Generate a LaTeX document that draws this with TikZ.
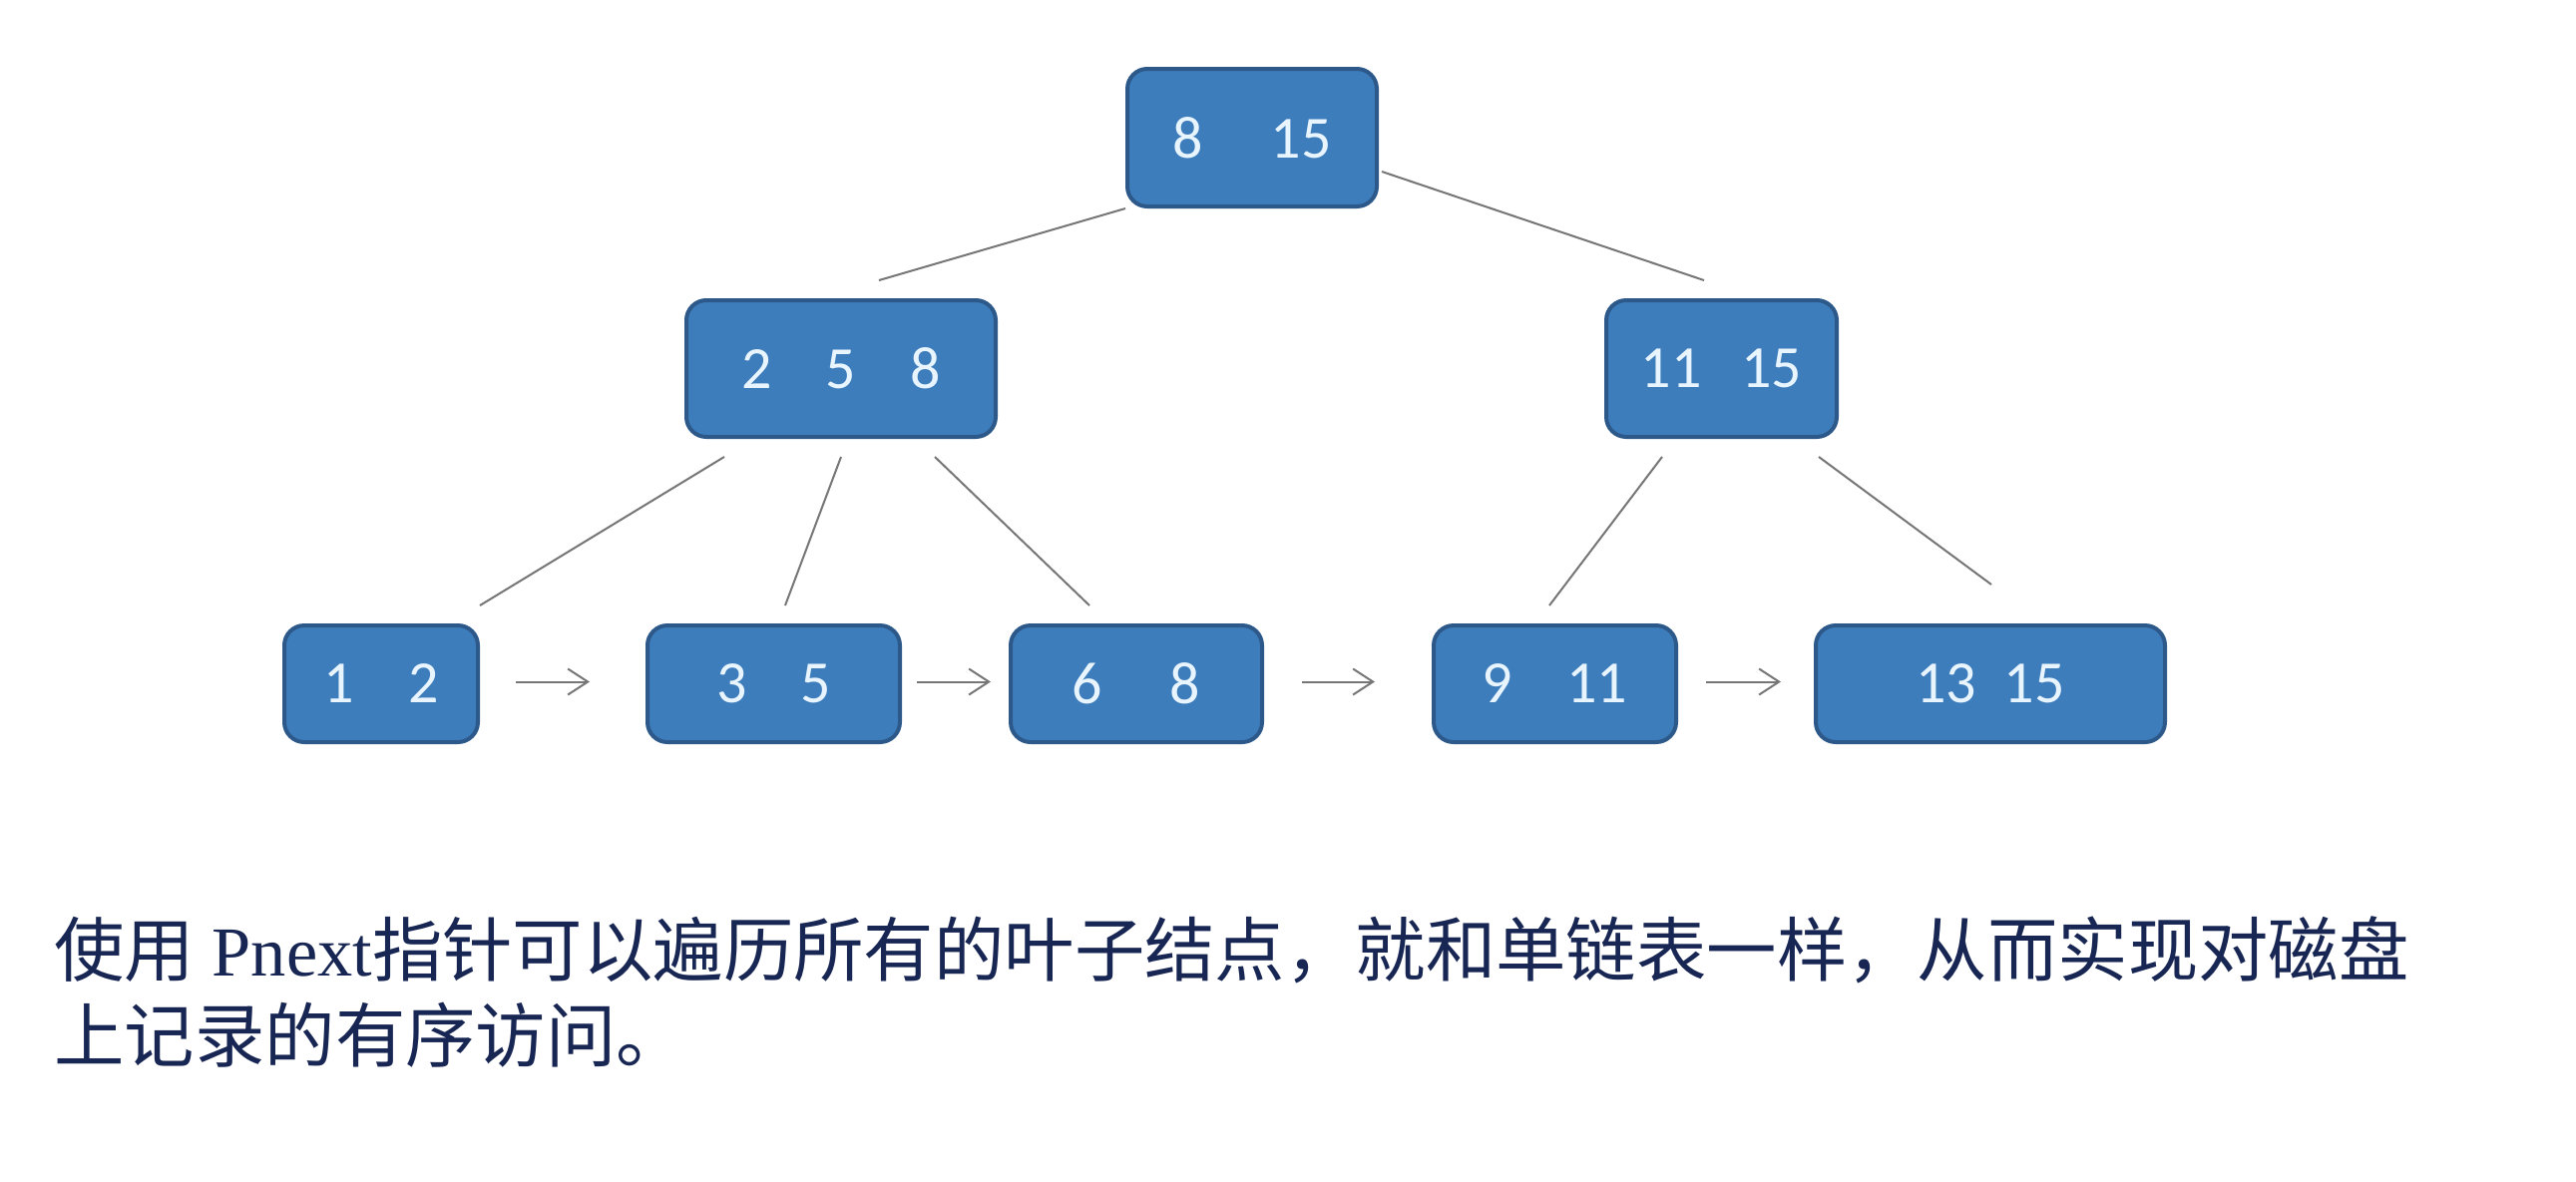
\documentclass[tikz,border=0pt]{standalone}
\usepackage{fontspec}
\setmainfont{Liberation Serif}
\newfontfamily\cjk{Noto Sans CJK SC}
\newfontfamily\numfont{Carlito}
\usetikzlibrary{calc,arrows.meta}
\definecolor{keyfill}{RGB}{62,125,187}
\definecolor{keyedge}{RGB}{44,88,138}
\definecolor{keytext}{RGB}{232,245,255}
\definecolor{linkgray}{RGB}{118,118,118}
\definecolor{prose}{RGB}{24,38,84}
\newcommand{\kg}[1]{\hspace{#1pt}}

\begin{document}
\begin{tikzpicture}[x=0.5pt,y=-0.5pt,
  keybox/.style={draw=keyedge, line width=2pt, fill=keyfill, rounded corners=10pt,
    text=keytext, font=\numfont\fontsize{30}{36}\selectfont, inner sep=0pt},
  treeedge/.style={draw=linkgray, line width=1pt},
  nextptr/.style={draw=linkgray, line width=1pt, -{Straight Barb[length=10pt,width=13pt]}},
  prosetext/.style={text=prose, inner sep=0pt, anchor=base west, font=\fontsize{35.2}{43}\selectfont}
]
\useasboundingbox[fill=white] (0,0) rectangle (2582,1184);

% root
\node[keybox, minimum width=125pt, minimum height=69pt] (root) at (1255,138) {8\kg{34}15};

% inner level
\node[keybox, minimum width=155pt, minimum height=68.5pt] (ml) at (843,369.5) {2\kg{27}5\kg{27}8};
\node[keybox, minimum width=115.5pt, minimum height=68.5pt] (mr) at (1725.5,369.5) {11\kg{20}15};

% leaves
\node[keybox, minimum width=97pt, minimum height=58.5pt] (l1) at (382,685.5) {1\kg{27}2};
\node[keybox, minimum width=126.5pt, minimum height=58.5pt] (l2) at (775.5,685.5) {3\kg{27}5};
\node[keybox, minimum width=126pt, minimum height=58.5pt] (l3) at (1139,685.5) {6\kg{34}8};
\node[keybox, minimum width=121.5pt, minimum height=58.5pt] (l4) at (1558.5,685.5) {9\kg{27}11};
\node[keybox, minimum width=175pt, minimum height=58.5pt] (l5) at (1995,685.5) {13\kg{14}15};

% tree edges
\draw[treeedge] (root.south west) -- ($(ml.north)+(38,-18)$);
\draw[treeedge] ($(root.south east)+(3,-37)$) -- ($(mr.north)+(-17.5,-18)$);
\draw[treeedge] ($(ml.south)+(-117,18)$) -- ($(l1.north east)+(0,-18)$);
\draw[treeedge] ($(ml.south)+(0,18)$) -- ($(l2.north)+(11.5,-18)$);
\draw[treeedge] ($(ml.south)+(94,18)$) -- ($(l3.north)+(-47,-18)$);
\draw[treeedge] ($(mr.south)+(-59.5,18)$) -- ($(l4.north)+(-5.5,-18)$);
\draw[treeedge] ($(mr.south)+(97.5,18)$) -- ($(l5.north)+(1,-39)$);

% leaf chain
\draw[nextptr] ($(l1.east)+(36,-2)$) -- ($(l2.west)+(-56,-2)$);
\draw[nextptr] ($(l2.east)+(15,-2)$) -- ($(l3.west)+(-18,-2)$);
\draw[nextptr] ($(l3.east)+(38,-2)$) -- ($(l4.west)+(-57,-2)$);
\draw[nextptr] ($(l4.east)+(28,-2)$) -- ($(l5.west)+(-33,-2)$);

% caption
\node[prosetext] (cap1) at (54,978) {{\cjk 使用} Pnext{\cjk 指针可以遍历所有的叶子结点，就和单链表一样，从而实现对磁盘}};
\node[prosetext] (cap2) at ($(cap1.base west)+(0,86)$) {{\cjk 上记录的有序访问。}};
\end{tikzpicture}
\end{document}
